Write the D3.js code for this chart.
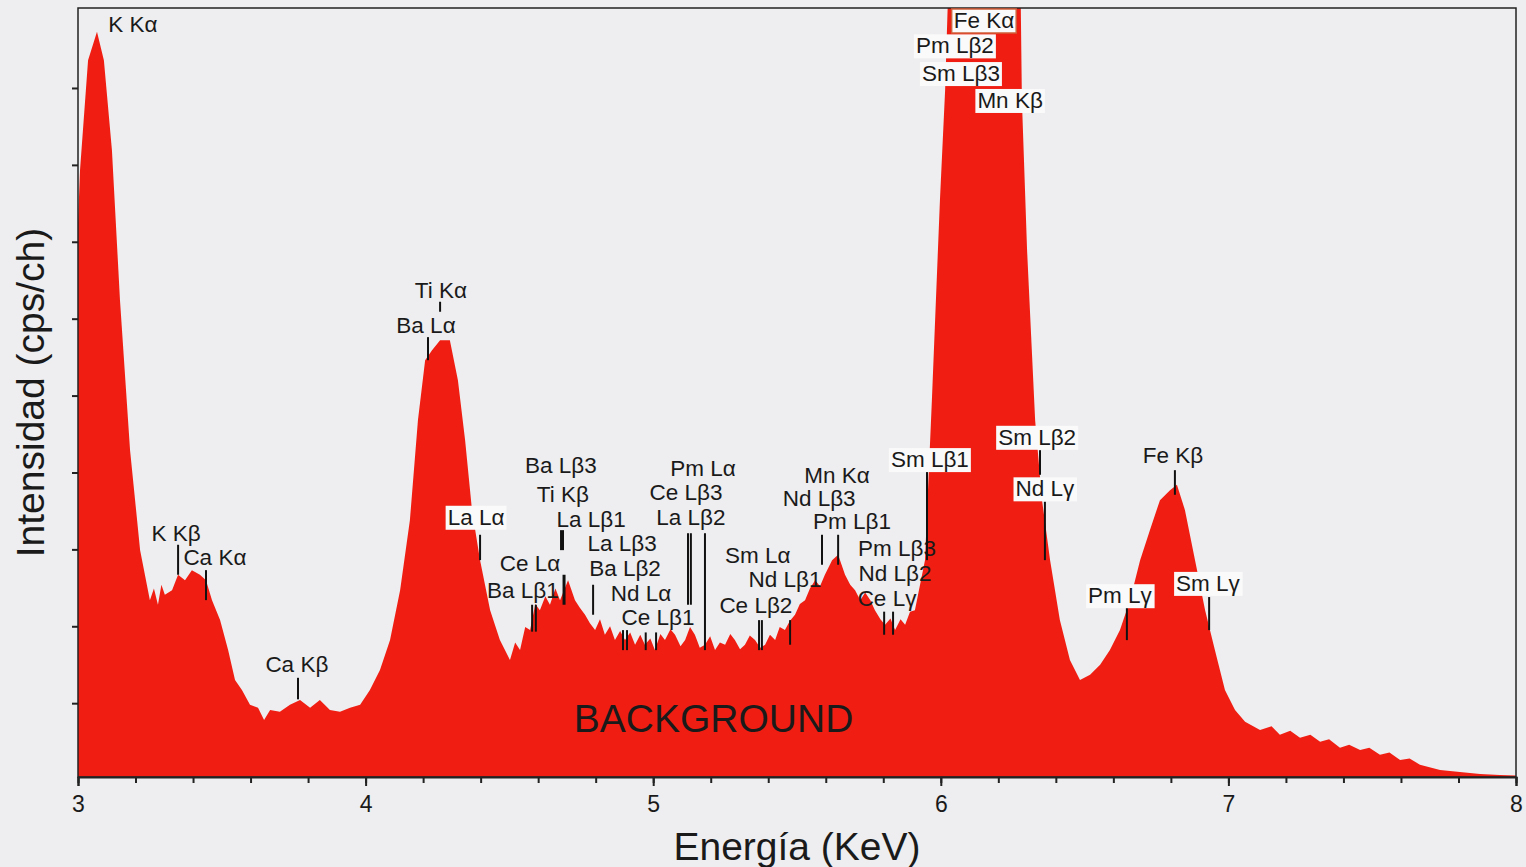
<!DOCTYPE html>
<html>
<head>
<meta charset="utf-8">
<script src="https://cdn.jsdelivr.net/npm/d3@7"></script>
<style>
  body { margin: 0; background: #eeeef0; }
  text { font-family: "Liberation Sans", Arial, sans-serif; fill: #1a1a1a; }
</style>
</head>
<body>
<svg id="chart" width="1526" height="867"></svg>
<script>
// spectrum, energy (keV) and intensity (arbitrary, 0-100 = plot height)
const energy = [3.0, 3.007, 3.035, 3.066, 3.090, 3.118, 3.146, 3.181, 3.216, 3.250, 3.264, 3.278, 3.290, 3.302, 3.327, 3.348, 3.372, 3.396, 3.424, 3.445, 3.466, 3.494, 3.522, 3.546, 3.570, 3.598, 3.626, 3.647, 3.668, 3.702, 3.737, 3.772, 3.807, 3.841, 3.876, 3.911, 3.946, 3.981, 4.015, 4.050, 4.085, 4.120, 4.154, 4.182, 4.207, 4.231, 4.259, 4.293, 4.321, 4.346, 4.370, 4.398, 4.433, 4.467, 4.502, 4.520, 4.537, 4.555, 4.572, 4.590, 4.606, 4.625, 4.641, 4.660, 4.676, 4.704, 4.728, 4.745, 4.763, 4.780, 4.798, 4.815, 4.832, 4.850, 4.867, 4.885, 4.902, 4.920, 4.937, 4.955, 4.971, 4.990, 5.006, 5.025, 5.041, 5.060, 5.076, 5.095, 5.111, 5.128, 5.145, 5.162, 5.180, 5.198, 5.215, 5.232, 5.250, 5.268, 5.284, 5.302, 5.319, 5.336, 5.354, 5.372, 5.389, 5.406, 5.424, 5.440, 5.458, 5.475, 5.493, 5.510, 5.528, 5.545, 5.563, 5.580, 5.597, 5.622, 5.643, 5.667, 5.685, 5.702, 5.720, 5.737, 5.755, 5.771, 5.790, 5.806, 5.825, 5.841, 5.860, 5.876, 5.893, 5.910, 5.945, 5.969, 5.997, 6.015, 6.032, 6.206, 6.275, 6.282, 6.300, 6.328, 6.352, 6.380, 6.414, 6.449, 6.484, 6.519, 6.554, 6.588, 6.623, 6.658, 6.693, 6.727, 6.762, 6.797, 6.821, 6.849, 6.884, 6.919, 6.953, 6.988, 7.023, 7.058, 7.110, 7.150, 7.179, 7.215, 7.249, 7.285, 7.319, 7.350, 7.388, 7.420, 7.458, 7.490, 7.527, 7.560, 7.597, 7.630, 7.666, 7.736, 7.805, 7.875, 7.944, 8.0];
const intensity = [72.0, 78.9, 93.2, 96.9, 93.2, 81.5, 62.0, 42.5, 29.5, 23.0, 24.5, 22.4, 25.0, 23.7, 24.3, 26.3, 25.6, 26.9, 26.3, 25.6, 23.0, 20.4, 16.5, 12.6, 11.3, 9.4, 9.0, 7.4, 8.7, 8.5, 9.4, 10.0, 9.0, 10.0, 8.7, 8.5, 9.0, 9.4, 11.3, 13.9, 17.8, 24.3, 33.4, 46.4, 54.2, 55.5, 56.8, 56.8, 51.6, 43.8, 34.7, 28.2, 21.7, 17.8, 15.2, 17.5, 16.5, 19.5, 19.1, 22.5, 21.7, 23.5, 22.4, 24.5, 23.0, 25.6, 23.0, 22.0, 21.1, 20.0, 19.1, 20.5, 18.5, 19.6, 17.8, 19.0, 17.8, 18.8, 17.2, 18.5, 17.2, 18.0, 16.5, 18.6, 17.8, 19.2, 18.5, 17.0, 17.8, 19.5, 18.5, 16.8, 17.2, 18.3, 16.5, 17.5, 17.2, 18.6, 17.8, 16.6, 17.2, 18.4, 17.8, 16.8, 17.2, 18.5, 17.8, 19.5, 19.1, 20.3, 21.1, 22.5, 23.0, 24.5, 25.6, 24.8, 26.3, 28.2, 28.9, 26.3, 25.0, 24.3, 23.0, 24.0, 23.0, 21.7, 20.5, 19.8, 20.6, 19.1, 20.5, 19.8, 21.5, 21.7, 28.2, 49.0, 75.0, 89.3, 110, 110, 110, 88.0, 68.5, 46.4, 36.0, 28.2, 20.4, 15.2, 12.6, 13.3, 14.6, 16.5, 19.1, 23.0, 28.2, 32.1, 36.0, 37.3, 38.0, 34.7, 28.2, 21.7, 16.5, 11.3, 8.7, 7.2, 6.1, 6.6, 5.5, 6.0, 5.1, 5.5, 4.6, 4.9, 3.8, 4.2, 3.5, 3.8, 2.9, 3.2, 2.2, 2.4, 1.6, 0.9, 0.65, 0.4, 0.26, 0.2];

const xTicks = [3, 4, 5, 6, 7, 8];
const yTicks = [9.6, 19.6, 29.6, 39.6, 49.6, 59.6, 69.6, 79.6, 89.6];

// peak labels: text, label centre (keV), baseline (intensity), marker lines [keV, top, bottom], boxed
const labels = [
  { t: 'K Kα', e: 3.191, i: 96.9, lines: [] },
  { t: 'K Kβ', e: 3.341, i: 30.7, lines: [[3.348, 30.2, 26.3]] },
  { t: 'Ca Kα', e: 3.476, i: 27.6, lines: [[3.445, 26.9, 23.0]] },
  { t: 'Ca Kβ', e: 3.761, i: 13.7, lines: [[3.765, 12.9, 10.1]] },
  { t: 'Ti Kα', e: 4.262, i: 62.3, lines: [[4.259, 61.8, 60.5]] },
  { t: 'Ba Lα', e: 4.210, i: 57.7, lines: [[4.217, 57.2, 54.2]] },
  { t: 'La Lα', e: 4.384, i: 32.8, lines: [[4.398, 31.5, 28.2]], box: true },
  { t: 'Ce Lα', e: 4.572, i: 26.8, lines: [] },
  { t: 'Ba Lβ1', e: 4.547, i: 23.3, lines: [[4.579, 22.4, 18.9], [4.592, 22.4, 18.9]] },
  { t: 'Ba Lβ3', e: 4.679, i: 39.5, lines: [] },
  { t: 'Ti Kβ', e: 4.686, i: 35.8, lines: [[4.683, 32.1, 29.5, 4]] },
  { t: 'La Lβ1', e: 4.784, i: 32.5, lines: [[4.690, 26.3, 22.4, 3]] },
  { t: 'La Lβ3', e: 4.892, i: 29.4, lines: [] },
  { t: 'Ba Lβ2', e: 4.902, i: 26.1, lines: [[4.791, 25.0, 21.1]] },
  { t: 'Nd Lα', e: 4.958, i: 22.9, lines: [[4.895, 19.1, 16.5], [4.909, 19.1, 16.5]] },
  { t: 'Ce Lβ1', e: 5.017, i: 19.8, lines: [[4.974, 18.8, 16.5], [5.010, 18.8, 16.5]] },
  { t: 'Pm Lα', e: 5.173, i: 39.1, lines: [] },
  { t: 'Ce Lβ3', e: 5.114, i: 36.0, lines: [] },
  { t: 'La Lβ2', e: 5.131, i: 32.8, lines: [[5.121, 31.7, 22.4], [5.131, 31.7, 22.4], [5.180, 31.7, 16.5]] },
  { t: 'Sm Lα', e: 5.364, i: 27.8, lines: [] },
  { t: 'Nd Lβ1', e: 5.458, i: 24.7, lines: [] },
  { t: 'Ce Lβ2', e: 5.357, i: 21.3, lines: [[5.368, 20.4, 16.5], [5.378, 20.4, 16.5], [5.476, 20.4, 17.2]] },
  { t: 'Mn Kα', e: 5.639, i: 38.2, lines: [] },
  { t: 'Nd Lβ3', e: 5.577, i: 35.2, lines: [] },
  { t: 'Pm Lβ1', e: 5.691, i: 32.2, lines: [[5.587, 31.5, 27.6], [5.643, 31.5, 27.6]] },
  { t: 'Pm Lβ3', e: 5.848, i: 28.7, lines: [] },
  { t: 'Nd Lβ2', e: 5.841, i: 25.5, lines: [] },
  { t: 'Ce Lγ', e: 5.813, i: 22.2, lines: [[5.803, 21.5, 18.5], [5.834, 21.5, 18.5]] },
  { t: 'Sm Lβ1', e: 5.962, i: 40.3, lines: [[5.952, 39.9, 28.2]], box: true },
  { t: 'Sm Lβ2', e: 6.335, i: 43.2, lines: [[6.345, 42.5, 39.3]], box: true },
  { t: 'Nd Lγ', e: 6.362, i: 36.5, lines: [[6.362, 35.8, 28.2]], box: true },
  { t: 'Fe Kβ', e: 6.807, i: 40.8, lines: [[6.814, 39.9, 36.7]] },
  { t: 'Pm Lγ', e: 6.623, i: 22.6, lines: [[6.647, 22.0, 17.8]], box: true },
  { t: 'Sm Lγ', e: 6.929, i: 24.2, lines: [[6.933, 23.4, 19.1]], box: true },
  { t: 'Fe Kα', e: 6.150, i: 97.4, lines: [], box: true, edge: '#d0603a' },
  { t: 'Pm Lβ2', e: 6.049, i: 94.1, lines: [], box: true },
  { t: 'Sm Lβ3', e: 6.070, i: 90.5, lines: [], box: true },
  { t: 'Mn Kβ', e: 6.241, i: 87.0, lines: [], box: true }
];

const m = { left: 78, right: 1516, top: 8, bottom: 777 };
const svg = d3.select('#chart');
const x = d3.scaleLinear().domain([3, 8]).range([m.left, m.right]);
const y = d3.scaleLinear().domain([0, 100]).range([m.bottom, m.top]);

svg.append('clipPath').attr('id', 'plot')
  .append('rect').attr('x', m.left).attr('y', m.top)
  .attr('width', m.right - m.left).attr('height', m.bottom - m.top);

const area = d3.area()
  .x(d => x(d[0]))
  .y0(y(0))
  .y1(d => y(d[1]));

svg.append('path')
  .datum(d3.zip(energy, intensity))
  .attr('clip-path', 'url(#plot)')
  .attr('fill', '#f01e12')
  .attr('d', area);

svg.append('text')
  .attr('x', x(5.21)).attr('y', y(5.9))
  .attr('text-anchor', 'middle')
  .style('font-size', '39px')
  .attr('fill', '#141414')
  .text('BACKGROUND');

// frame
svg.append('rect')
  .attr('x', m.left).attr('y', m.top)
  .attr('width', m.right - m.left).attr('height', m.bottom - m.top)
  .attr('fill', 'none').attr('stroke', '#222').attr('stroke-width', 1.5);

// labels
const lab = svg.append('g');
labels.forEach(l => {
  l.lines.forEach(ln => {
    lab.append('line')
      .attr('x1', x(ln[0])).attr('x2', x(ln[0]))
      .attr('y1', y(ln[1])).attr('y2', y(ln[2]))
      .attr('stroke', '#111').attr('stroke-width', ln[3] || 2);
  });
  const t = lab.append('text')
    .attr('x', x(l.e)).attr('y', y(l.i))
    .attr('text-anchor', 'middle')
    .style('font-size', '22.5px')
    .text(l.t);
  if (l.box) {
    const b = t.node().getBBox();
    lab.insert('rect', () => t.node())
      .attr('x', b.x - 2).attr('y', b.y + 1)
      .attr('width', b.width + 4).attr('height', b.height - 1)
      .attr('fill', '#fafafa')
      .attr('stroke', l.edge || 'none').attr('stroke-width', 1.5);
  }
});

// axes
const xAxis = svg.append('g')
  .attr('transform', `translate(0,${m.bottom})`)
  .call(d3.axisBottom(x).tickValues(xTicks).tickSize(9).tickFormat(d3.format('d')));
svg.append('g')
  .attr('transform', `translate(0,${m.bottom})`)
  .call(d3.axisBottom(x).tickValues(d3.range(3, 8.01, 0.2)).tickSize(6).tickFormat(''))
  .call(g => g.select('.domain').remove());
svg.append('g')
  .attr('transform', `translate(${m.left},0)`)
  .call(d3.axisLeft(y).tickValues(yTicks).tickSize(6).tickFormat(''))
  .call(g => g.select('.domain').remove());
svg.selectAll('.tick line').attr('stroke', '#222').attr('stroke-width', 2);
xAxis.select('.domain').attr('stroke', '#222').attr('stroke-width', 2);
xAxis.selectAll('text').style('font-size', '23px').attr('dy', '1.0em').attr('fill', '#1a1a1a');

svg.append('text')
  .attr('x', x(5.5)).attr('y', 860)
  .attr('text-anchor', 'middle')
  .style('font-size', '39px')
  .text('Energía (KeV)');

svg.append('text')
  .attr('transform', `translate(44,${(m.top + m.bottom) / 2}) rotate(-90)`)
  .attr('text-anchor', 'middle')
  .style('font-size', '39px')
  .text('Intensidad (cps/ch)');
</script>
</body>
</html>
